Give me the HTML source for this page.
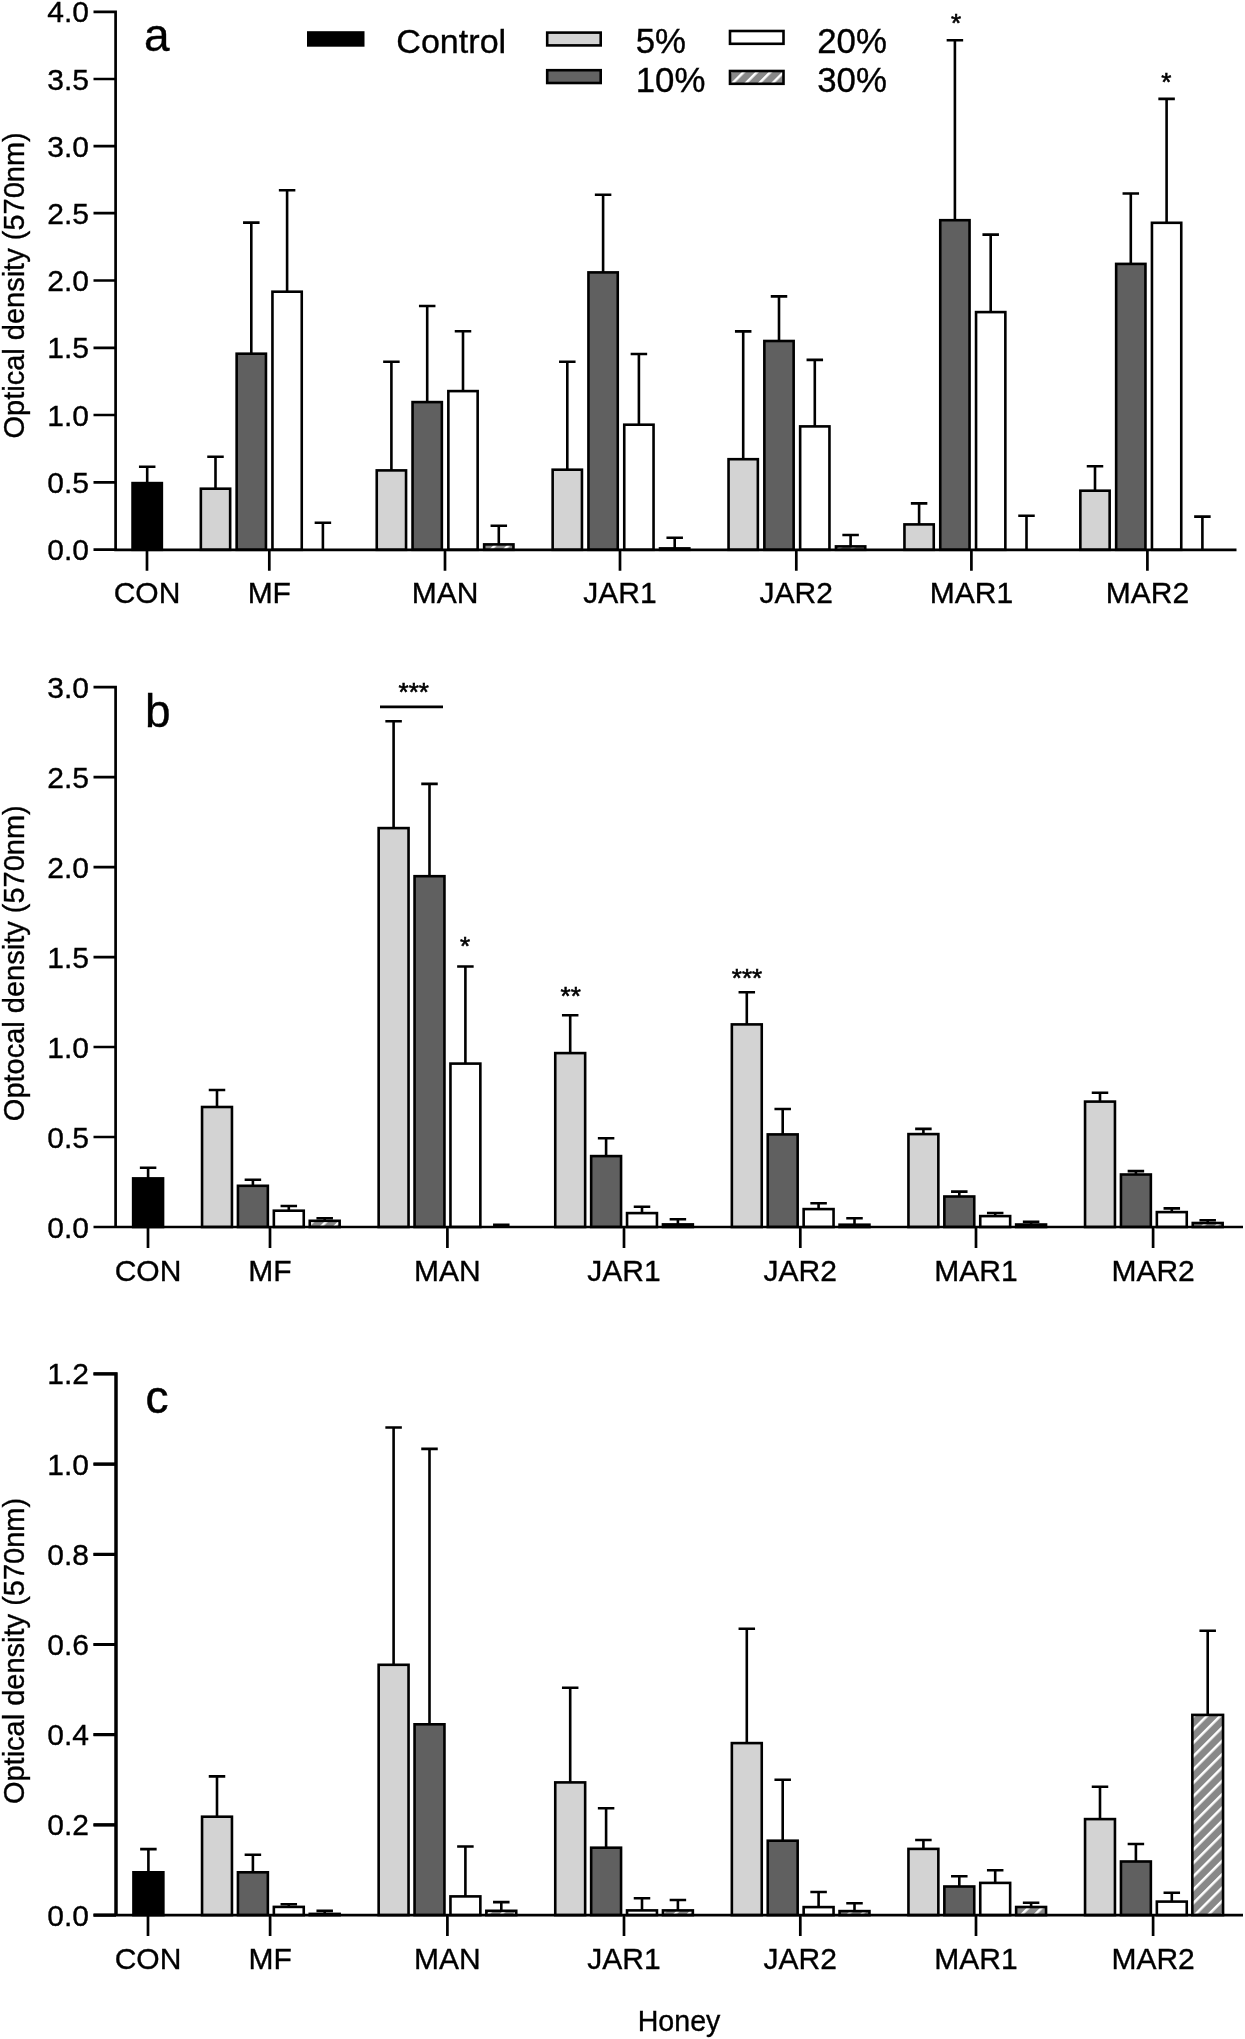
<!DOCTYPE html>
<html lang="en"><head><meta charset="utf-8"><title>Figure</title>
<style>html,body{margin:0;padding:0;background:#fff}svg{display:block;filter:blur(0.45px)}text{font-family:"Liberation Sans", Arial, sans-serif;fill:#000;stroke:#000;stroke-width:0.35px}.e{fill:none;stroke:#000;stroke-width:2.6}.b{stroke:#000;stroke-width:2.6}.ax{fill:none;stroke:#000;stroke-width:2.7}.t{font-size:30px}.yl{text-anchor:end}.xl{text-anchor:middle}.ylb{font-size:30px}.hn{font-size:28.6px;text-anchor:middle}.lg{font-size:34.8px}.pl{font-size:46px}.st{font-size:26px;text-anchor:middle;stroke-width:0.6px}</style></head><body>
<svg width="1245" height="2039" viewBox="0 0 1245 2039">
<defs><pattern id="hatch" patternUnits="userSpaceOnUse" width="9.44" height="9.44" patternTransform="rotate(45) translate(7.6 0)"><rect width="9.44" height="9.44" fill="#888888"/><rect x="0" y="0" width="2.5" height="9.44" fill="#fff"/></pattern><pattern id="hatchL" patternUnits="userSpaceOnUse" width="9.44" height="9.44" patternTransform="rotate(45) translate(-0.3 0)"><rect width="9.44" height="9.44" fill="#888888"/><rect x="0" y="0" width="2.5" height="9.44" fill="#fff"/></pattern></defs>
<rect width="1245" height="2039" fill="#fff"/>
<g>
<path d="M147.2 482.7V466.7M138.95 466.7H155.45" class="e"/><rect x="132.55" y="483.1" width="29.3" height="66.7" fill="#000" class="b"/>
<path d="M215.5 488.3V456.7M207.25 456.7H223.75" class="e"/><rect x="200.85" y="488.7" width="29.3" height="61.1" fill="#d3d3d3" class="b"/>
<path d="M251.3 353.3V222.6M243.05 222.6H259.55" class="e"/><rect x="236.65" y="353.7" width="29.3" height="196.1" fill="#606060" class="b"/>
<path d="M287.1 291.3V190.2M278.85 190.2H295.35" class="e"/><rect x="272.45" y="291.7" width="29.3" height="258.1" fill="#ffffff" class="b"/>
<path d="M322.9 549.8V522.7M314.65 522.7H331.15" class="e"/>
<path d="M391.4 470V361.7M383.15 361.7H399.65" class="e"/><rect x="376.75" y="470.4" width="29.3" height="79.4" fill="#d3d3d3" class="b"/>
<path d="M427.2 401.7V306M418.95 306H435.45" class="e"/><rect x="412.55" y="402.1" width="29.3" height="147.7" fill="#606060" class="b"/>
<path d="M463 390.7V331.3M454.75 331.3H471.25" class="e"/><rect x="448.35" y="391.1" width="29.3" height="158.7" fill="#ffffff" class="b"/>
<path d="M498.8 544V525.7M490.55 525.7H507.05" class="e"/><rect x="484.15" y="544.4" width="29.3" height="5.4" fill="url(#hatch)" class="b"/>
<path d="M567.3 469.3V361.7M559.05 361.7H575.55" class="e"/><rect x="552.65" y="469.7" width="29.3" height="80.1" fill="#d3d3d3" class="b"/>
<path d="M603.1 272V194.7M594.85 194.7H611.35" class="e"/><rect x="588.45" y="272.4" width="29.3" height="277.4" fill="#606060" class="b"/>
<path d="M638.9 424.3V354M630.65 354H647.15" class="e"/><rect x="624.25" y="424.7" width="29.3" height="125.1" fill="#ffffff" class="b"/>
<path d="M674.7 548V537.7M666.45 537.7H682.95" class="e"/><rect x="660.05" y="548.4" width="29.3" height="1.4" fill="url(#hatch)" class="b"/>
<path d="M743.2 458.8V331.4M734.95 331.4H751.45" class="e"/><rect x="728.55" y="459.2" width="29.3" height="90.6" fill="#d3d3d3" class="b"/>
<path d="M779 340.6V296.4M770.75 296.4H787.25" class="e"/><rect x="764.35" y="341" width="29.3" height="208.8" fill="#606060" class="b"/>
<path d="M814.8 426V359.9M806.55 359.9H823.05" class="e"/><rect x="800.15" y="426.4" width="29.3" height="123.4" fill="#ffffff" class="b"/>
<path d="M850.6 546V535M842.35 535H858.85" class="e"/><rect x="835.95" y="546.4" width="29.3" height="3.4" fill="url(#hatch)" class="b"/>
<path d="M919.1 524V503.4M910.85 503.4H927.35" class="e"/><rect x="904.45" y="524.4" width="29.3" height="25.4" fill="#d3d3d3" class="b"/>
<path d="M954.9 219.8V40.3M946.65 40.3H963.15" class="e"/><rect x="940.25" y="220.2" width="29.3" height="329.6" fill="#606060" class="b"/>
<path d="M990.7 311.7V234.6M982.45 234.6H998.95" class="e"/><rect x="976.05" y="312.1" width="29.3" height="237.7" fill="#ffffff" class="b"/>
<path d="M1026.5 549.8V515.7M1018.25 515.7H1034.75" class="e"/>
<path d="M1095 490.3V466.2M1086.75 466.2H1103.25" class="e"/><rect x="1080.35" y="490.7" width="29.3" height="59.1" fill="#d3d3d3" class="b"/>
<path d="M1130.8 263.5V193.5M1122.55 193.5H1139.05" class="e"/><rect x="1116.15" y="263.9" width="29.3" height="285.9" fill="#606060" class="b"/>
<path d="M1166.6 222.4V98.9M1158.35 98.9H1174.85" class="e"/><rect x="1151.95" y="222.8" width="29.3" height="327" fill="#ffffff" class="b"/>
<path d="M1202.4 549.8V516.6M1194.15 516.6H1210.65" class="e"/>
<path class="ax" d="M115.6 10.45V549.8H1236.5M93.5 11.8H115.6M93.5 79H115.6M93.5 146.1H115.6M93.5 213.2H115.6M93.5 280.5H115.6M93.5 347.8H115.6M93.5 415H115.6M93.5 482.3H115.6M93.5 549.6H115.6M147 549.8V570.8M269.3 549.8V570.8M445 549.8V570.8M620 549.8V570.8M796.3 549.8V570.8M971.4 549.8V570.8M1147.4 549.8V570.8"/>
<text class="t yl" x="89" y="22.3">4.0</text>
<text class="t yl" x="89" y="89.5">3.5</text>
<text class="t yl" x="89" y="156.6">3.0</text>
<text class="t yl" x="89" y="223.7">2.5</text>
<text class="t yl" x="89" y="291">2.0</text>
<text class="t yl" x="89" y="358.3">1.5</text>
<text class="t yl" x="89" y="425.5">1.0</text>
<text class="t yl" x="89" y="492.8">0.5</text>
<text class="t yl" x="89" y="560.1">0.0</text>
<text class="t xl" x="147" y="602.9">CON</text>
<text class="t xl" x="269.3" y="602.9">MF</text>
<text class="t xl" x="445" y="602.9">MAN</text>
<text class="t xl" x="620" y="602.9">JAR1</text>
<text class="t xl" x="796.3" y="602.9">JAR2</text>
<text class="t xl" x="971.4" y="602.9">MAR1</text>
<text class="t xl" x="1147.4" y="602.9">MAR2</text>
<text class="pl" x="144" y="51">a</text>
<text class="ylb" text-anchor="middle" textLength="306.21" lengthAdjust="spacingAndGlyphs" transform="translate(23.6 285.4) rotate(-90)">Optical density (570nm)</text>
</g>
<g>
<path d="M148.1 1178V1167.8M139.85 1167.8H156.35" class="e"/><rect x="133.15" y="1178.4" width="29.9" height="48.6" fill="#000" class="b"/>
<path d="M217 1106.6V1090M208.75 1090H225.25" class="e"/><rect x="202.05" y="1107" width="29.9" height="120" fill="#d3d3d3" class="b"/>
<path d="M252.9 1185.4V1179.7M244.65 1179.7H261.15" class="e"/><rect x="237.95" y="1185.8" width="29.9" height="41.2" fill="#606060" class="b"/>
<path d="M288.8 1210.3V1206M280.55 1206H297.05" class="e"/><rect x="273.85" y="1210.7" width="29.9" height="16.3" fill="#ffffff" class="b"/>
<path d="M324.7 1220.4V1218.2M316.45 1218.2H332.95" class="e"/><rect x="309.75" y="1220.8" width="29.9" height="6.2" fill="url(#hatch)" class="b"/>
<path d="M393.6 827.7V721.3M385.35 721.3H401.85" class="e"/><rect x="378.65" y="828.1" width="29.9" height="398.9" fill="#d3d3d3" class="b"/>
<path d="M429.5 875.8V783.9M421.25 783.9H437.75" class="e"/><rect x="414.55" y="876.2" width="29.9" height="350.8" fill="#606060" class="b"/>
<path d="M465.4 1063.2V966.5M457.15 966.5H473.65" class="e"/><rect x="450.45" y="1063.6" width="29.9" height="163.4" fill="#ffffff" class="b"/>
<path d="M501.3 1227V1224.7M493.05 1224.7H509.55" class="e"/>
<path d="M570.2 1052.7V1015.3M561.95 1015.3H578.45" class="e"/><rect x="555.25" y="1053.1" width="29.9" height="173.9" fill="#d3d3d3" class="b"/>
<path d="M606.1 1155.7V1138.3M597.85 1138.3H614.35" class="e"/><rect x="591.15" y="1156.1" width="29.9" height="70.9" fill="#606060" class="b"/>
<path d="M642 1212.7V1206.7M633.75 1206.7H650.25" class="e"/><rect x="627.05" y="1213.1" width="29.9" height="13.9" fill="#ffffff" class="b"/>
<path d="M677.9 1224V1219.3M669.65 1219.3H686.15" class="e"/><rect x="662.95" y="1224.4" width="29.9" height="2.6" fill="url(#hatch)" class="b"/>
<path d="M746.8 1024V992.3M738.55 992.3H755.05" class="e"/><rect x="731.85" y="1024.4" width="29.9" height="202.6" fill="#d3d3d3" class="b"/>
<path d="M782.7 1134V1109M774.45 1109H790.95" class="e"/><rect x="767.75" y="1134.4" width="29.9" height="92.6" fill="#606060" class="b"/>
<path d="M818.6 1208.7V1203.3M810.35 1203.3H826.85" class="e"/><rect x="803.65" y="1209.1" width="29.9" height="17.9" fill="#ffffff" class="b"/>
<path d="M854.5 1224.3V1218.3M846.25 1218.3H862.75" class="e"/><rect x="839.55" y="1224.7" width="29.9" height="2.3" fill="url(#hatch)" class="b"/>
<path d="M923.4 1133.7V1128.9M915.15 1128.9H931.65" class="e"/><rect x="908.45" y="1134.1" width="29.9" height="92.9" fill="#d3d3d3" class="b"/>
<path d="M959.3 1196.1V1191.6M951.05 1191.6H967.55" class="e"/><rect x="944.35" y="1196.5" width="29.9" height="30.5" fill="#606060" class="b"/>
<path d="M995.2 1215.7V1213M986.95 1213H1003.45" class="e"/><rect x="980.25" y="1216.1" width="29.9" height="10.9" fill="#ffffff" class="b"/>
<path d="M1031.1 1224.1V1221.7M1022.85 1221.7H1039.35" class="e"/><rect x="1016.15" y="1224.5" width="29.9" height="2.5" fill="url(#hatch)" class="b"/>
<path d="M1100 1101.2V1092.8M1091.75 1092.8H1108.25" class="e"/><rect x="1085.05" y="1101.6" width="29.9" height="125.4" fill="#d3d3d3" class="b"/>
<path d="M1135.9 1174.1V1171.1M1127.65 1171.1H1144.15" class="e"/><rect x="1120.95" y="1174.5" width="29.9" height="52.5" fill="#606060" class="b"/>
<path d="M1171.8 1211.7V1208.4M1163.55 1208.4H1180.05" class="e"/><rect x="1156.85" y="1212.1" width="29.9" height="14.9" fill="#ffffff" class="b"/>
<path d="M1207.7 1222.6V1220.2M1199.45 1220.2H1215.95" class="e"/><rect x="1192.75" y="1223" width="29.9" height="4" fill="url(#hatch)" class="b"/>
<path class="ax" d="M115.6 685.75V1227H1243M93.5 687.1H115.6M93.5 777.1H115.6M93.5 867.1H115.6M93.5 957.1H115.6M93.5 1047H115.6M93.5 1137H115.6M93.5 1227H115.6M148 1227V1248M270 1227V1248M447.4 1227V1248M624 1227V1248M800.3 1227V1248M976 1227V1248M1153.1 1227V1248"/>
<text class="t yl" x="89" y="697.6">3.0</text>
<text class="t yl" x="89" y="787.6">2.5</text>
<text class="t yl" x="89" y="877.6">2.0</text>
<text class="t yl" x="89" y="967.6">1.5</text>
<text class="t yl" x="89" y="1057.5">1.0</text>
<text class="t yl" x="89" y="1147.5">0.5</text>
<text class="t yl" x="89" y="1237.5">0.0</text>
<text class="t xl" x="148" y="1280.9">CON</text>
<text class="t xl" x="270" y="1280.9">MF</text>
<text class="t xl" x="447.4" y="1280.9">MAN</text>
<text class="t xl" x="624" y="1280.9">JAR1</text>
<text class="t xl" x="800.3" y="1280.9">JAR2</text>
<text class="t xl" x="976" y="1280.9">MAR1</text>
<text class="t xl" x="1153.1" y="1280.9">MAR2</text>
<text class="pl" x="145" y="726.5">b</text>
<text class="ylb" text-anchor="middle" textLength="315.9" lengthAdjust="spacingAndGlyphs" transform="translate(23.6 963.2) rotate(-90)">Optocal density (570nm)</text>
</g>
<g>
<path d="M148.4 1871.9V1849.1M140.15 1849.1H156.65" class="e"/><rect x="133.45" y="1872.3" width="29.9" height="42.8" fill="#000" class="b"/>
<path d="M217 1816.3V1776.4M208.75 1776.4H225.25" class="e"/><rect x="202.05" y="1816.7" width="29.9" height="98.4" fill="#d3d3d3" class="b"/>
<path d="M252.9 1871.9V1854.8M244.65 1854.8H261.15" class="e"/><rect x="237.95" y="1872.3" width="29.9" height="42.8" fill="#606060" class="b"/>
<path d="M288.8 1906.5V1904.3M280.55 1904.3H297.05" class="e"/><rect x="273.85" y="1906.9" width="29.9" height="8.2" fill="#ffffff" class="b"/>
<path d="M324.7 1913.5V1910.9M316.45 1910.9H332.95" class="e"/><rect x="309.75" y="1913.9" width="29.9" height="1.2" fill="url(#hatch)" class="b"/>
<path d="M393.6 1664.4V1427.5M385.35 1427.5H401.85" class="e"/><rect x="378.65" y="1664.8" width="29.9" height="250.3" fill="#d3d3d3" class="b"/>
<path d="M429.5 1723.9V1448.9M421.25 1448.9H437.75" class="e"/><rect x="414.55" y="1724.3" width="29.9" height="190.8" fill="#606060" class="b"/>
<path d="M465.4 1896V1846.5M457.15 1846.5H473.65" class="e"/><rect x="450.45" y="1896.4" width="29.9" height="18.7" fill="#ffffff" class="b"/>
<path d="M501.3 1910.4V1902.1M493.05 1902.1H509.55" class="e"/><rect x="486.35" y="1910.8" width="29.9" height="4.3" fill="url(#hatch)" class="b"/>
<path d="M570.2 1782V1687.7M561.95 1687.7H578.45" class="e"/><rect x="555.25" y="1782.4" width="29.9" height="132.7" fill="#d3d3d3" class="b"/>
<path d="M606.1 1847.3V1808.3M597.85 1808.3H614.35" class="e"/><rect x="591.15" y="1847.7" width="29.9" height="67.4" fill="#606060" class="b"/>
<path d="M642 1910V1898.3M633.75 1898.3H650.25" class="e"/><rect x="627.05" y="1910.4" width="29.9" height="4.7" fill="#ffffff" class="b"/>
<path d="M677.9 1910V1900M669.65 1900H686.15" class="e"/><rect x="662.95" y="1910.4" width="29.9" height="4.7" fill="url(#hatch)" class="b"/>
<path d="M746.8 1742.7V1628.7M738.55 1628.7H755.05" class="e"/><rect x="731.85" y="1743.1" width="29.9" height="172" fill="#d3d3d3" class="b"/>
<path d="M782.7 1840.3V1779.7M774.45 1779.7H790.95" class="e"/><rect x="767.75" y="1840.7" width="29.9" height="74.4" fill="#606060" class="b"/>
<path d="M818.6 1906.7V1892M810.35 1892H826.85" class="e"/><rect x="803.65" y="1907.1" width="29.9" height="8" fill="#ffffff" class="b"/>
<path d="M854.5 1910.7V1903.3M846.25 1903.3H862.75" class="e"/><rect x="839.55" y="1911.1" width="29.9" height="4" fill="url(#hatch)" class="b"/>
<path d="M923.4 1848.5V1840M915.15 1840H931.65" class="e"/><rect x="908.45" y="1848.9" width="29.9" height="66.2" fill="#d3d3d3" class="b"/>
<path d="M959.3 1886.1V1876.2M951.05 1876.2H967.55" class="e"/><rect x="944.35" y="1886.5" width="29.9" height="28.6" fill="#606060" class="b"/>
<path d="M995.2 1882.5V1870.2M986.95 1870.2H1003.45" class="e"/><rect x="980.25" y="1882.9" width="29.9" height="32.2" fill="#ffffff" class="b"/>
<path d="M1031.1 1906.6V1902.7M1022.85 1902.7H1039.35" class="e"/><rect x="1016.15" y="1907" width="29.9" height="8.1" fill="url(#hatch)" class="b"/>
<path d="M1100 1818.7V1786.7M1091.75 1786.7H1108.25" class="e"/><rect x="1085.05" y="1819.1" width="29.9" height="96" fill="#d3d3d3" class="b"/>
<path d="M1135.9 1861.1V1844M1127.65 1844H1144.15" class="e"/><rect x="1120.95" y="1861.5" width="29.9" height="53.6" fill="#606060" class="b"/>
<path d="M1171.8 1901.2V1892.8M1163.55 1892.8H1180.05" class="e"/><rect x="1156.85" y="1901.6" width="29.9" height="13.5" fill="#ffffff" class="b"/>
<path d="M1207.7 1714.5V1630.7M1199.45 1630.7H1215.95" class="e"/><rect x="1192.35" y="1714.9" width="30.7" height="200.2" fill="url(#hatch)" class="b"/>
<path class="ax" d="M116 1372.55V1915.1H1243M93.5 1373.9H116M93.5 1464.1H116M93.5 1554.3H116M93.5 1644.5H116M93.5 1734.7H116M93.5 1824.9H116M93.5 1915.1H116M148 1915.1V1936.1M270.1 1915.1V1936.1M447.4 1915.1V1936.1M624 1915.1V1936.1M800.3 1915.1V1936.1M976 1915.1V1936.1M1153.1 1915.1V1936.1"/>
<path class="ax" style="stroke-width:3.2" d="M116 1372.3V1915.1M93.5 1373.9H116M93.5 1464.1H116M93.5 1554.3H116M93.5 1644.5H116M93.5 1734.7H116M93.5 1824.9H116M93.5 1915.1H116"/>
<text class="t yl" x="89" y="1384.4">1.2</text>
<text class="t yl" x="89" y="1474.6">1.0</text>
<text class="t yl" x="89" y="1564.8">0.8</text>
<text class="t yl" x="89" y="1655">0.6</text>
<text class="t yl" x="89" y="1745.2">0.4</text>
<text class="t yl" x="89" y="1835.4">0.2</text>
<text class="t yl" x="89" y="1925.6">0.0</text>
<text class="t xl" x="148" y="1969.1">CON</text>
<text class="t xl" x="270.1" y="1969.1">MF</text>
<text class="t xl" x="447.4" y="1969.1">MAN</text>
<text class="t xl" x="624" y="1969.1">JAR1</text>
<text class="t xl" x="800.3" y="1969.1">JAR2</text>
<text class="t xl" x="976" y="1969.1">MAR1</text>
<text class="t xl" x="1153.1" y="1969.1">MAR2</text>
<text class="pl" style="stroke-width:0.5px" x="145.6" y="1413.3">c</text>
<text class="ylb" text-anchor="middle" textLength="306.21" lengthAdjust="spacingAndGlyphs" transform="translate(23.6 1651) rotate(-90)">Optical density (570nm)</text>
</g>
<g>
<rect x="307" y="31.2" width="57.5" height="15.5" fill="#000"/>
<text class="lg" style="font-size:34.1px" x="396.3" y="52.8">Control</text>
<rect x="547.2" y="32.6" width="53.5" height="12.8" fill="#d3d3d3" class="b"/>
<rect x="547.2" y="70.2" width="53.5" height="12.8" fill="#636363" class="b"/>
<rect x="730" y="31" width="53.5" height="12.8" fill="#fff" class="b"/>
<rect x="730" y="71" width="53.5" height="12.8" fill="url(#hatchL)" class="b"/>
<text class="lg" x="635.7" y="53">5%</text>
<text class="lg" x="635.7" y="91.6">10%</text>
<text class="lg" x="817.2" y="53">20%</text>
<text class="lg" x="817.2" y="91.6">30%</text>
</g>
<g>
<text class="st" x="956" y="31.8">*</text>
<text class="st" x="1166.2" y="91">*</text>
<text class="st" x="413.8" y="701">***</text>
<path class="ax" d="M380 706.9H443"/>
<text class="st" x="465" y="954.8">*</text>
<text class="st" x="570.7" y="1004.8">**</text>
<text class="st" x="747" y="987.3">***</text>
</g>
<text class="hn" x="679" y="2030.5">Honey</text>
</svg></body></html>
